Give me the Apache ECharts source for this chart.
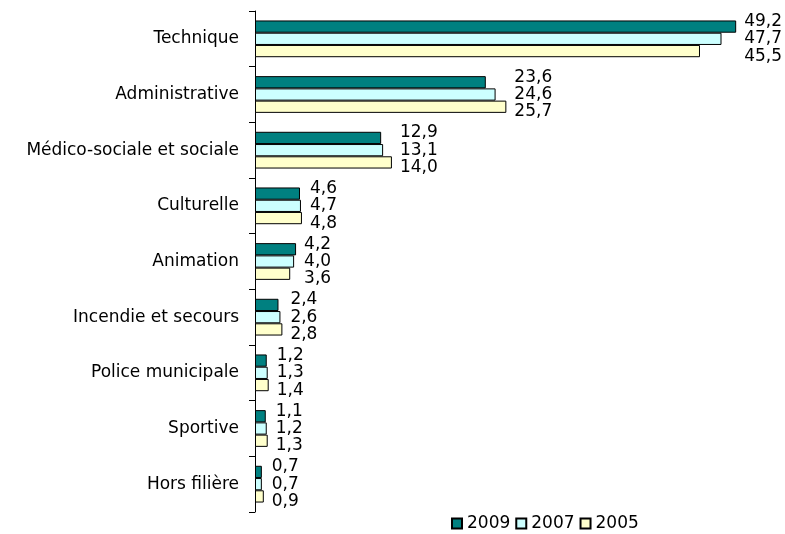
<!DOCTYPE html>
<html>
<head>
<meta charset="utf-8">
<script src="https://cdn.jsdelivr.net/npm/echarts@6/dist/echarts.min.js"></script>
<style>
html,body{margin:0;padding:0;background:#fff;}
#chart{width:785px;height:534px;}
</style>
</head>
<body>
<div id="chart"></div>
<script>
const categories = ['Technique','Administrative','Médico-sociale et sociale','Culturelle','Animation','Incendie et secours','Police municipale','Sportive','Hors filière'];
const years = ['2009','2007','2005'];
const values2009 = [49.2,23.6,12.9,4.6,4.2,2.4,1.2,1.1,0.7];
const values2007 = [47.7,24.6,13.1,4.7,4.0,2.6,1.3,1.2,0.7];
const values2005 = [45.5,25.7,14.0,4.8,3.6,2.8,1.4,1.3,0.9];

const seriesValues = [values2009, values2007, values2005];
const colors = ['#008080','#CCFFFF','#FFFFCC'];
const labelDy = [-5, 0, 5];

const W = 785, H = 534;
const gridLeft = 255, gridRight = 41, gridTop = 11, gridBottom = 22;
const xMax = 50;
const pxPerUnit = (W - gridLeft - gridRight) / xMax;
const FONT = 'DejaVu Sans';

const groupMax = categories.map((c, i) => Math.max(values2009[i], values2007[i], values2005[i]));

const fmt = v => v.toFixed(1).replace('.', ',');

const series = years.map((y, s) => ({
  name: y,
  type: 'bar',
  barGap: '0%',
  barCategoryGap: '34%',
  itemStyle: { color: colors[s], borderColor: '#000', borderWidth: 1 },
  label: {
    show: true,
    position: 'right',
    distance: 8,
    color: '#000',
    fontFamily: FONT,
    fontSize: 17,
    formatter: p => fmt(p.value)
  },
  data: seriesValues[s].map((v, i) => ({
    value: v,
    label: { offset: [(groupMax[i] - v) * pxPerUnit, labelDy[s]] }
  }))
}));

const chart = echarts.init(document.getElementById('chart'), null, { renderer: 'canvas' });
chart.setOption({
  animation: false,
  backgroundColor: '#fff',
  grid: { left: gridLeft, right: gridRight, top: gridTop, bottom: gridBottom, containLabel: false },
  legend: {
    data: years,
    left: 446,
    top: 510,
    itemWidth: 10,
    itemHeight: 10,
    itemGap: 5,
    icon: 'rect',
    textStyle: { color: '#000', fontFamily: FONT, fontSize: 17 }
  },
  xAxis: {
    type: 'value',
    min: 0,
    max: xMax,
    show: false,
    splitLine: { show: false }
  },
  yAxis: {
    type: 'category',
    data: categories,
    inverse: true,
    axisLine: { show: true, lineStyle: { color: '#000', width: 1 } },
    axisTick: { show: true, length: 6, lineStyle: { color: '#000' } },
    axisLabel: { color: '#000', fontFamily: FONT, fontSize: 17, margin: 16 },
    splitLine: { show: false }
  },
  series: series
});
</script>
</body>
</html>
